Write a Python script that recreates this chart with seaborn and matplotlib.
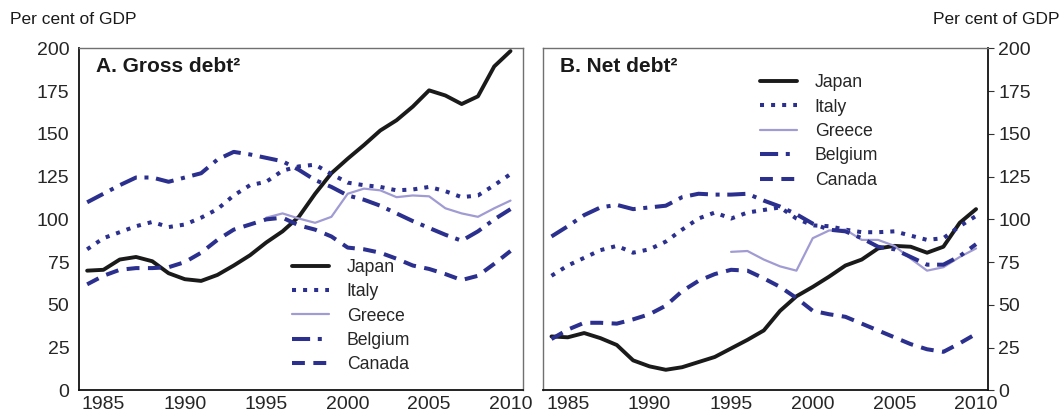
import numpy as np
import pandas as pd
import matplotlib
matplotlib.use("Agg")
import matplotlib.pyplot as plt
import seaborn as sns

# years 1984-2010, values in per cent of GDP
years = list(range(1984, 2011))
countries = ["Japan", "Italy", "Greece", "Belgium", "Canada"]

nan = np.nan
gross_japan = [70, 70.5, 76.5, 78, 75.5, 68.5, 65, 64, 67.5, 73, 79, 86.5, 93, 101.5, 115, 127,
               135.5, 143.5, 152, 158, 166, 175.5, 172.5, 167.5, 172, 189.5, 198.5]
gross_italy = [82.5, 89, 92.5, 96, 98.5, 95.5, 97, 101, 106, 114, 120, 122, 128.5, 131, 132, 126.5,
               121.5, 120, 119, 117, 117.5, 119, 116.5, 113, 114, 120, 126.5]
gross_greece = [nan] * 11 + [101, 103.5, 100.5, 98, 101.5, 115, 118, 117, 113, 114, 113.5,
                             106.5, 103.5, 101.5, 106.5, 111]
gross_belgium = [110, 115, 120, 124.5, 124.5, 122, 124.5, 127, 135, 139.5, 138, 136, 134, 129, 123,
                 119, 114, 111.5, 108, 103.5, 99, 95, 91, 87.5, 93, 100, 106]
gross_canada = [62, 67, 70.5, 71.5, 71.5, 72, 75, 80.5, 88, 94, 97, 100, 101, 96.5, 94, 90, 83.5,
                82.5, 80.5, 77, 73, 71, 68, 64.5, 67, 74, 81.5]

net_japan = [31.5, 31, 33.5, 30.5, 26.5, 17.5, 14, 12, 13.5, 16.5, 19.5, 24.5, 29.5, 35, 46.5, 55,
             60.5, 66.5, 73, 76.5, 83, 84.5, 84, 80.5, 84, 98, 106]
net_italy = [67, 73, 77.5, 82, 84.5, 80.5, 82.5, 87, 94, 100.5, 104, 100.5, 104, 105.5, 107, 100.5,
             96.5, 96, 94, 92.5, 92.5, 93, 90.5, 88, 89, 96, 102]
net_greece = [nan] * 11 + [81, 81.5, 76.5, 72.5, 70, 89, 93.5, 94, 88, 88, 84.5, 77, 70, 72, 78, 83]
net_belgium = [90, 96, 102.5, 107, 108.5, 106, 107, 108, 113, 115, 114.5, 114.5, 115, 111, 107.5,
               103, 97.5, 94, 93, 89, 84, 82.5, 78, 73.5, 73.5, 78.5, 85.5]
net_canada = [30, 35.5, 39.5, 39.5, 39, 41.5, 44.5, 49.5, 58, 64, 68, 70.5, 70, 65.5, 60.5, 54, 46.5,
              44.5, 43, 39, 35, 31, 27, 24, 22.5, 27.5, 33]

x_labels = [1985, 1990, 1995, 2000, 2005, 2010]
y_ticks = [0, 25, 50, 75, 100, 125, 150, 175, 200]

navy = "#2b2f8e"
styles = {
    "Japan": dict(color="#1a1a1a", lw=2.8, ls="-"),
    "Italy": dict(color=navy, lw=2.9, ls=(0, (1, 1.75))),
    "Greece": dict(color="#a09bd3", lw=1.6, ls="-"),
    "Belgium": dict(color=navy, lw=2.9, ls=(0, (4.5, 1.9, 1, 1.9))),
    "Canada": dict(color=navy, lw=2.9, ls=(0, (3.2, 2.1))),
}


def make_frame(japan, italy, greece, belgium, canada):
    parts = []
    for name, vals in zip(countries, [japan, italy, greece, belgium, canada]):
        parts.append(pd.DataFrame({"year": years, "value": vals, "country": name}))
    return pd.concat(parts, ignore_index=True)


gross = make_frame(gross_japan, gross_italy, gross_greece, gross_belgium, gross_canada)
net = make_frame(net_japan, net_italy, net_greece, net_belgium, net_canada)

sns.set_style("white")
plt.rcParams["font.family"] = ["Liberation Sans", "DejaVu Sans"]

fig = plt.figure(figsize=(10.62, 4.13), dpi=100)
ax1 = fig.add_axes([0.0744, 0.055, 0.4178, 0.8276])
ax2 = fig.add_axes([0.5116, 0.055, 0.4190, 0.8276])


def draw_panel(ax, df, title, side, legend_anchor):
    for name in countries:
        sub = df[df["country"] == name].dropna()
        st = styles[name]
        sns.lineplot(data=sub, x="year", y="value", ax=ax, color=st["color"],
                     linewidth=st["lw"], linestyle=st["ls"], label=name)
    ax.set_xlim(1983.5, 2010.75)
    ax.set_ylim(0, 200)
    ax.set_xlabel("")
    ax.set_ylabel("")
    ax.set_xticks(x_labels)
    ax.set_xticklabels([str(v) for v in x_labels], fontsize=14)
    ax.set_xticks(np.arange(1984.5, 2010, 1), minor=True)
    ax.tick_params(axis="x", which="major", length=0, pad=4)
    ax.tick_params(axis="x", which="minor", direction="in", length=4, width=0.8, color="#333333")
    ax.set_yticks(y_ticks)
    ax.set_yticklabels([str(v) for v in y_ticks], fontsize=14)
    if side == "right":
        ax.yaxis.tick_right()
        dark, light = ["bottom", "right"], ["top", "left"]
    else:
        dark, light = ["bottom", "left"], ["top", "right"]
    ax.tick_params(axis="y", direction="out", length=4, width=0.8, pad=3, color="#333333")
    for s in dark:
        ax.spines[s].set_color("#111111")
        ax.spines[s].set_linewidth(1.3)
    for s in light:
        ax.spines[s].set_color("#707070")
        ax.spines[s].set_linewidth(1.0)
        ax.spines[s].set_visible(True)
    ax.text(0.038, 0.975, title, transform=ax.transAxes, ha="left", va="top",
            fontsize=15, fontweight="bold", color="#1a1a1a")
    ax.legend(loc="upper left", bbox_to_anchor=legend_anchor, frameon=False, fontsize=12.7,
              handlelength=2.1, handletextpad=1.0, labelspacing=0.42, borderpad=0,
              borderaxespad=0)


draw_panel(ax1, gross, "A. Gross debt²", "left", (0.48, 0.385))
draw_panel(ax2, net, "B. Net debt²", "right", (0.487, 0.925))

fig.text(0.009, 0.952, "Per cent of GDP", ha="left", va="center", fontsize=12.5, color="#1a1a1a")
fig.text(0.998, 0.952, "Per cent of GDP", ha="right", va="center", fontsize=12.5, color="#1a1a1a")

fig.savefig("out.png", dpi=100)
